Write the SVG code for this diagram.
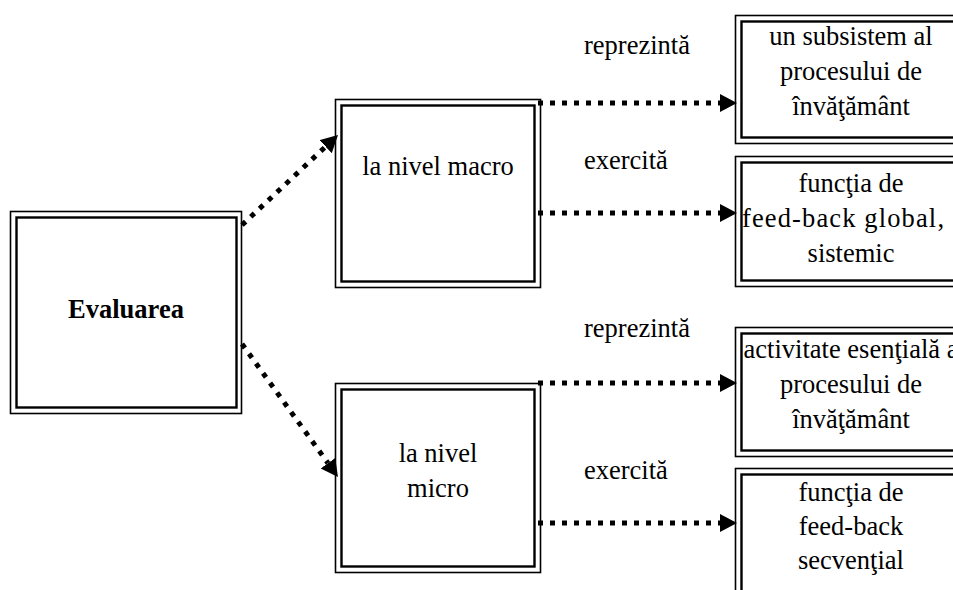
<svg xmlns="http://www.w3.org/2000/svg" width="953" height="590" viewBox="0 0 953 590">
<style>
.o{fill:none;stroke:#000;stroke-width:1.6}
.i{fill:none;stroke:#000;stroke-width:2.4}
.t{font-family:"Liberation Serif","Times New Roman",serif;font-size:26.5px;fill:#000;text-anchor:middle}
.b{font-weight:bold}
.l{font-family:"Liberation Serif","Times New Roman",serif;font-size:26.5px;fill:#000}
.c{fill:none;stroke:#000;stroke-width:5;stroke-dasharray:5 7}
</style>
<defs>
<marker id="ah" markerUnits="userSpaceOnUse" markerWidth="18" markerHeight="19" refX="0" refY="9" orient="auto" viewBox="0 0 18 19">
<path d="M0,0 L17,9 L0,18 z" fill="#000"/>
</marker>
</defs>
<rect width="953" height="590" fill="#fff"/>
<g id="evaluarea">
<rect class="o" x="10.5" y="211.5" width="231" height="202"/>
<rect class="i" x="16.5" y="217.5" width="220" height="190"/>
<text class="t b" x="126" y="318">Evaluarea</text>
</g>
<g id="macro">
<rect class="o" x="335.5" y="99.5" width="205" height="188"/>
<rect class="i" x="341.5" y="105.5" width="193" height="176"/>
<text class="t" x="438" y="175">la nivel macro</text>
</g>
<g id="micro">
<rect class="o" x="335.5" y="383.5" width="205" height="189"/>
<rect class="i" x="341.5" y="389.5" width="193" height="177"/>
<text class="t" x="438" y="462">la nivel</text>
<text class="t" x="438" y="497">micro</text>
</g>
<g id="subsistem">
<rect class="o" x="735.5" y="15.5" width="232" height="128"/>
<rect class="i" x="741.5" y="21.5" width="220" height="116"/>
<text class="t" x="851" y="45">un subsistem al</text>
<text class="t" x="851" y="80">procesului de</text>
<text class="t" x="851" y="115">învăţământ</text>
</g>
<g id="feedback-global">
<rect class="o" x="735.5" y="156.5" width="232" height="130"/>
<rect class="i" x="741.5" y="162.5" width="220" height="118"/>
<text class="t" x="851" y="192">funcţia de</text>
<text class="t" x="843" y="227" textLength="202" lengthAdjust="spacing">feed-back global,</text>
<text class="t" x="851" y="262">sistemic</text>
</g>
<g id="activitate">
<rect class="o" x="735.5" y="327.5" width="232" height="129"/>
<rect class="i" x="741.5" y="333.5" width="220" height="117"/>
<text class="t" x="851" y="358">activitate esenţială a</text>
<text class="t" x="851" y="393">procesului de</text>
<text class="t" x="851" y="428">învăţământ</text>
</g>
<g id="feedback-secvential">
<rect class="o" x="735.5" y="468.5" width="232" height="140"/>
<rect class="i" x="741.5" y="474.5" width="220" height="128"/>
<text class="t" x="851" y="501">funcţia de</text>
<text class="t" x="851" y="535">feed-back</text>
<text class="t" x="851" y="569">secvenţial</text>
</g>
<g id="connectors">
<line class="c" x1="242" y1="225" x2="325.6" y2="146.6" marker-end="url(#ah)"/>
<line class="c" x1="242" y1="344" x2="328" y2="463.2" marker-end="url(#ah)"/>
<line class="c" x1="538" y1="103" x2="720" y2="103" marker-end="url(#ah)"/>
<line class="c" x1="538" y1="213" x2="720" y2="213" marker-end="url(#ah)"/>
<line class="c" x1="538" y1="383" x2="720" y2="383" marker-end="url(#ah)"/>
<line class="c" x1="538" y1="523" x2="720" y2="523" marker-end="url(#ah)"/>
<text class="l" x="584" y="54">reprezintă</text>
<text class="l" x="584" y="169">exercită</text>
<text class="l" x="584" y="337">reprezintă</text>
<text class="l" x="584" y="479">exercită</text>
</g>
</svg>
